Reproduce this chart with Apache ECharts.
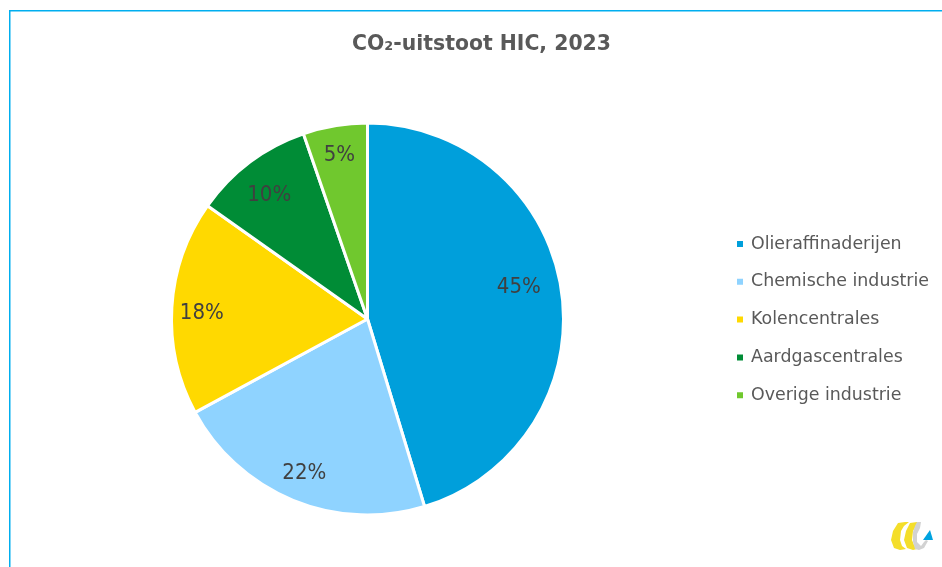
<!DOCTYPE html>
<html><head><meta charset="utf-8">
<style>html,body{margin:0;padding:0;background:#fff}#c{width:942px;height:567px}</style>
<script src="https://cdn.jsdelivr.net/npm/echarts@6/dist/echarts.min.js"></script>
</head><body><div id="c"></div>
<script>
const categories = ['Olieraffinaderijen','Chemische industrie','Kolencentrales','Aardgascentrales','Overige industrie'];
const values = [45.3,21.8,17.7,9.9,5.3];
const colors = ['#009FDB','#8FD3FF','#FFD900','#008C36','#70C82E'];
const titleText = 'CO₂-uitstoot HIC, 2023';
const FONT = 'DejaVu Sans';
const total = values.reduce((a,b)=>a+b,0);
const R = 196;
const labelRadii = [155,166,166,159,167];
const labelNudge = [[-5,-8],[1,-2],[3,4],[-1,6],[0,4]];
function midAngle(i){
  let s = 0; for(let k=0;k<i;k++) s += values[k];
  return (s + values[i]/2)/total*2*Math.PI;
}
const chart = echarts.init(document.getElementById('c'),null,{renderer:'canvas'});
chart.setOption({
  animation:false,
  backgroundColor:'#fff',
  color:colors,
  textStyle:{fontFamily:FONT},
  title:{text:titleText,left:476.5,top:30,textAlign:'center',
    textStyle:{fontFamily:FONT,fontSize:20.4,fontWeight:'bold',color:'#595959'}},
  legend:{orient:'vertical',left:730,top:230,itemWidth:8,itemHeight:8,itemGap:19.8,icon:'rect',
    data:categories,
    textStyle:{fontFamily:FONT,fontSize:17.4,color:'#595959',height:18,lineHeight:18,padding:[0,0,0,2]}},
  series:[{
    type:'pie',center:[367.5,319],radius:[0,R],startAngle:90,clockwise:true,
    data:categories.map((n,i)=>({name:n,value:values[i]})),
    itemStyle:{borderColor:'#fff',borderWidth:3},
    label:{show:true,position:'inside',formatter:p=>Math.round(p.value)+'%',
      fontFamily:'DejaVu Sans Condensed',fontSize:22,color:'#404040'},
    labelLine:{show:false},
    labelLayout:p=>{
      const i = p.dataIndex, a = midAngle(i), d = labelRadii[i] - R/2;
      return {dx:d*Math.sin(a)+labelNudge[i][0],dy:-d*Math.cos(a)+labelNudge[i][1]};
    },
    emphasis:{disabled:true}
  }],
  graphic:[
    {type:'rect',shape:{x:9,y:10,width:940,height:1.5},style:{fill:'#00AEEF'},silent:true},
    {type:'rect',shape:{x:9,y:10,width:1.5,height:560},style:{fill:'#00AEEF'},silent:true},
    {type:'polygon',shape:{points:[[905,522],[898,523],[893,531],[891,540],[894,548],[900,550],[906,549],[902,546],[900,540],[901,531],[904,526],[909,522]]},style:{fill:'#F4DE2A'},silent:true},
    {type:'polygon',shape:{points:[[917,522],[910,523],[906,531],[904,540],[907,548],[913,550],[917,549],[914,545],[912,540],[913,531],[916,526],[920,522]]},style:{fill:'#F4DE2A'},silent:true},
    {type:'polygon',shape:{points:[[917,522],[921,522],[920,528],[917,534],[917,542],[921,546],[924,542],[926,540],[928,541],[924,548],[919,550],[915,549],[913,542],[913,532],[915,526]]},style:{fill:'#D2D2D2'},silent:true},
    {type:'polygon',shape:{points:[[923,540],[930,530],[933,540]]},style:{fill:'#00A3E0'},silent:true}
  ]
});
</script></body></html>
